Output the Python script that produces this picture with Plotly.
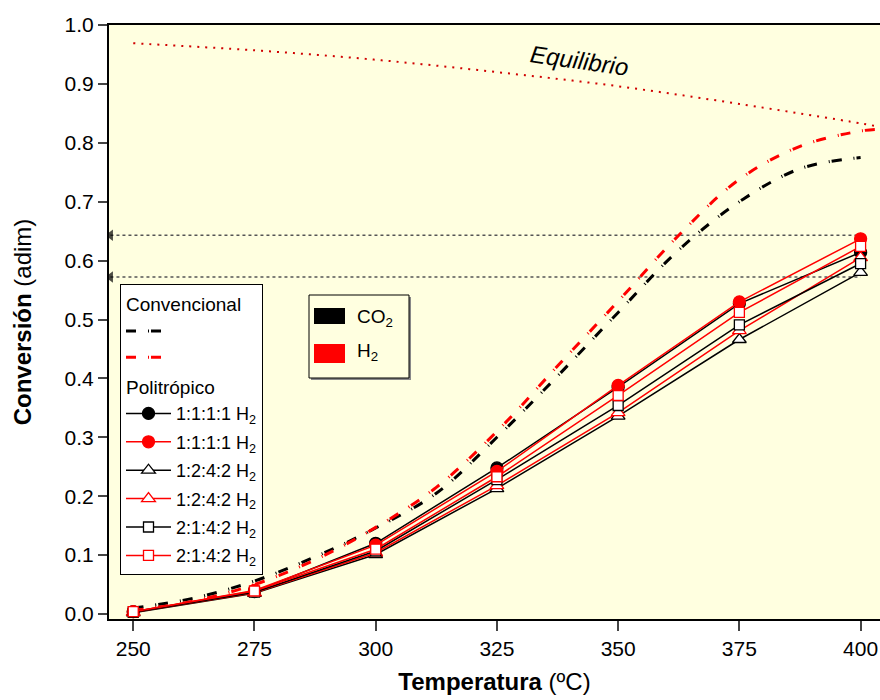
import plotly.graph_objects as go

# ---------------- data ----------------
temps = [250, 275, 300, 325, 350, 375, 400]

poly_111_co2 = [0.004, 0.038, 0.120, 0.248, 0.385, 0.527, 0.614]
poly_111_h2 = [0.004, 0.040, 0.117, 0.242, 0.388, 0.530, 0.637]
poly_124_co2 = [0.002, 0.035, 0.101, 0.213, 0.336, 0.466, 0.580]
poly_124_h2 = [0.003, 0.036, 0.104, 0.218, 0.342, 0.481, 0.605]
poly_214_co2 = [0.003, 0.037, 0.107, 0.228, 0.354, 0.491, 0.595]
poly_214_h2 = [0.004, 0.039, 0.110, 0.233, 0.371, 0.512, 0.624]

conv_t_co2 = [250, 262.5, 275, 287.5, 300, 312.5, 325, 337.5, 350, 362.5, 375, 387.5, 400]
conv_co2 = [0.010, 0.027, 0.056, 0.097, 0.146, 0.205, 0.300, 0.404, 0.512, 0.618, 0.700, 0.756, 0.775]
conv_t_h2 = [250, 262.5, 275, 287.5, 300, 312.5, 325, 337.5, 350, 362.5, 375, 387.5, 400, 404]
conv_h2 = [0.006, 0.022, 0.050, 0.092, 0.147, 0.215, 0.310, 0.421, 0.531, 0.643, 0.738, 0.794, 0.820, 0.823]

eq_t = [250, 275, 300, 325, 350, 375, 400, 404]
eq_conv = [0.969, 0.957, 0.941, 0.920, 0.896, 0.866, 0.833, 0.827]

ref_t = [245.3, 400]
ref_h2 = [0.643, 0.643]
ref_co2 = [0.572, 0.572]

poly_names = ["1:1:1:1 H<sub>2</sub>", "1:1:1:1 H<sub>2</sub>",
              "1:2:4:2 H<sub>2</sub>", "1:2:4:2 H<sub>2</sub>",
              "2:1:4:2 H<sub>2</sub>", "2:1:4:2 H<sub>2</sub>"]

FONT = "Liberation Sans, Arial, sans-serif"
BG = "#FFFFE0"

fig = go.Figure()

# equilibrium curve
fig.add_trace(go.Scatter(x=eq_t, y=eq_conv, mode="lines", showlegend=False,
                         line=dict(color="#d00000", width=2, dash="2px,6px", shape="spline"),
                         hoverinfo="skip"))

# reference horizontal lines with arrow heads at the axis
for yy in (ref_h2, ref_co2):
    fig.add_trace(go.Scatter(x=ref_t, y=yy, mode="lines+markers", showlegend=False,
                             line=dict(color="#555555", width=1.5, dash="3px,3px"),
                             marker=dict(symbol=["triangle-left", "circle"], size=[10, 0],
                                         color="black", line=dict(width=0)),
                             hoverinfo="skip"))

# conventional curves
fig.add_trace(go.Scatter(x=conv_t_co2, y=conv_co2, mode="lines", name="",
                         legendgroup="conv", legendgrouptitle=dict(text="Convencional"),
                         line=dict(color="black", width=3, dash="10px,12px,1px,2px", shape="spline")))
fig.add_trace(go.Scatter(x=conv_t_h2, y=conv_h2, mode="lines", name=" ",
                         legendgroup="conv",
                         line=dict(color="red", width=3, dash="10px,12px,1px,2px", shape="spline")))

# polytropic series
series = [poly_111_co2, poly_111_h2, poly_124_co2, poly_124_h2, poly_214_co2, poly_214_h2]
colors = ["black", "red"] * 3
symbols = ["circle", "circle", "triangle-up", "triangle-up", "square", "square"]
for i, (ys, nm) in enumerate(zip(series, poly_names)):
    c = colors[i]
    filled = symbols[i] == "circle"
    fig.add_trace(go.Scatter(
        x=temps, y=ys, mode="lines+markers", name=nm,
        legendgroup="poly%d" % i,
        legendgrouptitle=dict(text="Politrópico") if i == 0 else None,
        line=dict(color=c, width=1.5),
        marker=dict(symbol=symbols[i], size=12 if symbols[i] != "square" else 10,
                    color=c if filled else "white",
                    line=dict(color=c, width=1.3))))

# second (CO2 / H2) legend box
def px(x):
    return (x - 109) / 771.0

def py(y):
    return (619 - y) / 594.0

shapes = [
    dict(type="rect", xref="paper", yref="paper", x0=px(311), x1=px(411), y0=py(380), y1=py(297),
         fillcolor="#888888", line=dict(width=0), layer="above"),
    dict(type="rect", xref="paper", yref="paper", x0=px(309), x1=px(409), y0=py(378), y1=py(295),
         fillcolor=BG, line=dict(color="black", width=1), layer="above"),
    dict(type="rect", xref="paper", yref="paper", x0=px(314), x1=px(345), y0=py(324), y1=py(308),
         fillcolor="black", line=dict(width=0), layer="above"),
    dict(type="rect", xref="paper", yref="paper", x0=px(314), x1=px(345), y0=py(363), y1=py(344),
         fillcolor="red", line=dict(width=0), layer="above"),
]

annotations = [
    dict(text="CO<sub>2</sub>", xref="paper", yref="paper", x=px(355), y=py(318),
         xanchor="left", yanchor="middle", showarrow=False,
         font=dict(family=FONT, size=19, color="black")),
    dict(text="H<sub>2</sub>", xref="paper", yref="paper", x=px(355), y=py(352),
         xanchor="left", yanchor="middle", showarrow=False,
         font=dict(family=FONT, size=19, color="black")),
    dict(text="<i>Equilibrio</i>", xref="paper", yref="paper", x=px(579), y=py(61),
         xanchor="center", yanchor="middle", showarrow=False, textangle=8,
         font=dict(family=FONT, size=24, color="black")),
]

fig.update_layout(
    width=880, height=700,
    margin=dict(l=109, r=0, t=25, b=81),
    paper_bgcolor="white", plot_bgcolor=BG,
    font=dict(family=FONT, color="black"),
    shapes=shapes, annotations=annotations,
    legend=dict(x=px(120), y=py(284), xanchor="left", yanchor="top",
                bgcolor="white", bordercolor="black", borderwidth=1,
                font=dict(family=FONT, size=18, color="black"),
                grouptitlefont=dict(family=FONT, size=19, color="black"),
                tracegroupgap=2, itemsizing="trace", itemwidth=45),
    xaxis=dict(range=[245, 404], tickvals=temps, ticks="outside", ticklen=10, tickwidth=2,
               linecolor="black", linewidth=2, mirror=True, showgrid=False, zeroline=False,
               tickfont=dict(family=FONT, size=21, color="black"),
               title=dict(text="<b>Temperatura</b> (ºC)", standoff=14,
                          font=dict(family=FONT, size=24, color="black"))),
    yaxis=dict(range=[-0.0085, 1.0], dtick=0.1, tick0=0, tickformat=".1f", ticks="outside",
               ticklen=9, tickwidth=2, linecolor="black", linewidth=2, showgrid=False,
               zeroline=False, tickfont=dict(family=FONT, size=21, color="black"),
               title=dict(text="<b>Conversión</b> (adim)", standoff=26,
                          font=dict(family=FONT, size=24, color="black"))),
)

fig.write_html("out.html")
